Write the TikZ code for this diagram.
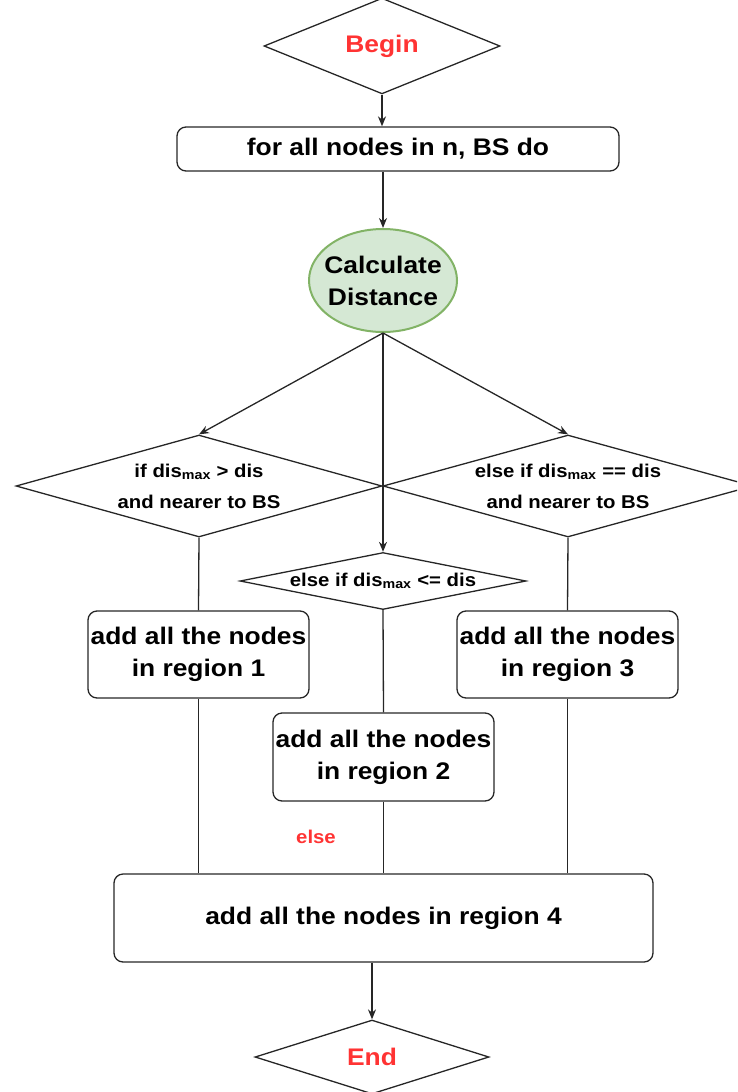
\documentclass[tikz,border=0pt]{standalone}
\usepackage{fontspec}
\setmainfont{Liberation Sans}[FakeStretch=1.1]
\usetikzlibrary{arrows.meta,shapes.geometric}
\tikzset{>={Stealth[length=10pt,width=8pt]}}

\definecolor{termred}{HTML}{FF3333}
\definecolor{calcfill}{HTML}{D5E8D4}
\definecolor{calcline}{HTML}{82B366}

\newcommand{\bxfont}{\bfseries\fontsize{24}{32}\selectfont}
\newcommand{\dfont}{\bfseries\fontsize{18.5}{31}\selectfont}
\newcommand{\zw}[1]{\makebox[0pt]{#1}}

\tikzset{
  line/.style={line width=1.3pt, draw=black!85},
  box/.style={rectangle, rounded corners=9pt, line, inner sep=0pt,
    align=center, font=\bxfont},
  dia/.style={diamond, line, inner sep=0pt, aspect=1, align=center,
    font=\dfont},
}

\begin{document}
\begin{tikzpicture}[x=1pt,y=-1pt]
  \useasboundingbox (0,0) rectangle (737,1092);
  \clip (0,0) rectangle (737,1092);

  \node[dia, minimum width=236pt, minimum height=70pt, text=termred,
    font=\bxfont] (begin) at (382,46) {Begin};
  \node[box, minimum width=442pt, minimum height=44pt] (loop) at (398,149)
    {for all nodes in n, BS do};
  \node[ellipse, line, draw=calcline, line width=2pt, fill=calcfill,
    minimum width=148pt, minimum height=103pt, inner sep=0pt, align=center,
    font=\bxfont] (calc) at (383,280.5) {\zw{Calculate}\\\zw{Distance}};

  \node[dia, minimum width=366pt, minimum height=102pt] (if1) at (199,486)
    {\zw{if dis\textsubscript{max} > dis}\\\zw{and nearer to BS}};
  \node[dia, minimum width=370pt, minimum height=102pt] (if3) at (568,486)
    {\zw{else if dis\textsubscript{max} == dis}\\\zw{and nearer to BS}};
  \node[dia, minimum width=286pt, minimum height=57pt] (if2) at (383,581)
    {\zw{else if dis\textsubscript{max} <= dis}};

  \node[box, minimum width=221pt, minimum height=87pt] (reg1) at (198.5,654.5)
    {add all the nodes\\in region 1};
  \node[box, minimum width=221pt, minimum height=87pt] (reg3) at (567.5,654.5)
    {add all the nodes\\in region 3};
  \node[box, minimum width=221pt, minimum height=88pt] (reg2) at (383.5,757)
    {add all the nodes\\in region 2};
  \node[box, minimum width=539pt, minimum height=88pt] (reg4) at (383.5,918)
    {add all the nodes in region 4};
  \node[text=termred, font=\dfont] (else) at (316,837) {else};

  \node[dia, minimum width=234pt, minimum height=74pt, text=termred,
    font=\bxfont] (end) at (372,1057) {End};

  % arrows
  \draw[line, ->] (begin.south) -- (begin.south |- loop.north);
  \draw[line, ->] (loop.south -| calc.north) -- (calc.north);
  \draw[line, ->] (calc.south) -- (if1.north);
  \draw[line, ->] (calc.south) -- (if3.north);
  \draw[line, ->] (calc.south) -- (if2.north);
  \draw[line, ->] (reg4.south -| end.north) -- (end.north);

  % plain lines into region 4
  \draw[line] (if1.south) -- (reg1.north);
  \draw[line] (reg1.south) -- (reg1.south |- reg4.north);
  \draw[line] (if3.south) -- (reg3.north);
  \draw[line] (reg3.south) -- (reg3.south |- reg4.north);
  \draw[line] (if2.south) -- (reg2.north);
  \draw[line] (reg2.south) -- (reg2.south |- reg4.north);
\end{tikzpicture}
\end{document}
